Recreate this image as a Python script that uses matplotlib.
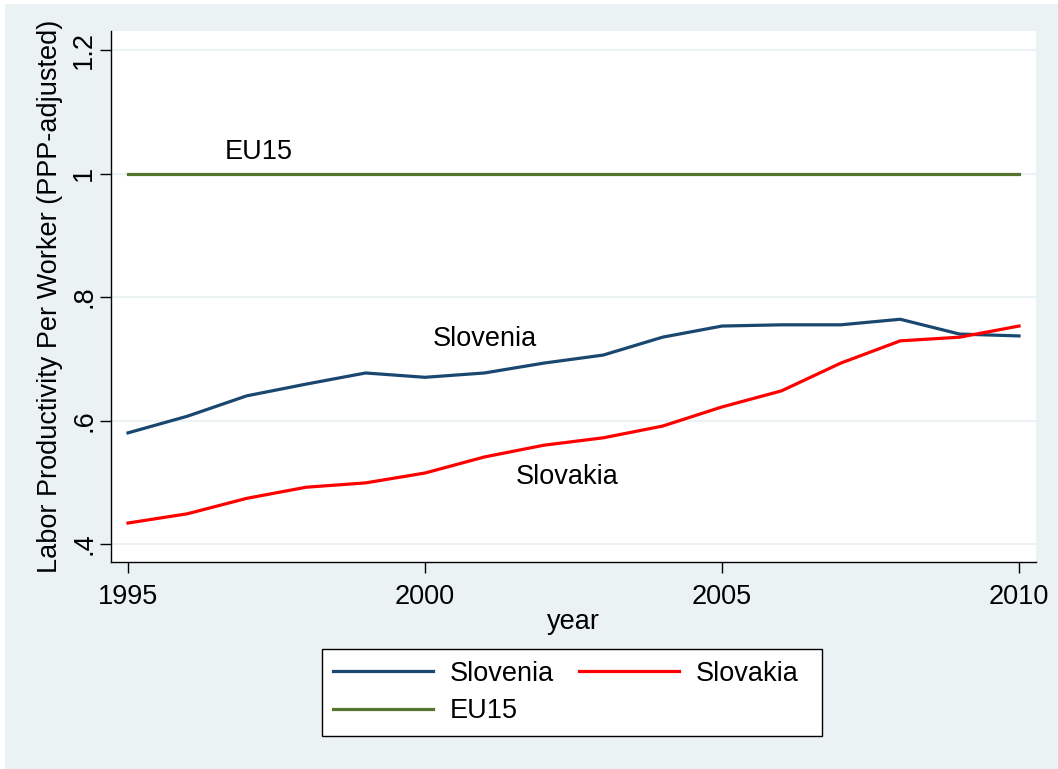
import matplotlib
matplotlib.use("Agg")
import matplotlib.pyplot as plt
from matplotlib.patches import Rectangle

years = list(range(1995, 2011))
slovenia = [0.580, 0.607, 0.640, 0.659, 0.677, 0.670, 0.677, 0.693,
            0.706, 0.735, 0.753, 0.755, 0.755, 0.764, 0.740, 0.737]
slovakia = [0.434, 0.449, 0.474, 0.492, 0.499, 0.515, 0.541, 0.560,
            0.572, 0.591, 0.622, 0.648, 0.693, 0.729, 0.735, 0.753]
eu15 = [1.0] * len(years)

xticks = [1995, 2000, 2005, 2010]
yticks = [0.4, 0.6, 0.8, 1.0, 1.2]
ytick_labels = [".4", ".6", ".8", "1", "1.2"]

BG = "#EAF2F3"
NAVY = "#1A476F"
RED = "#FF0000"
GREEN = "#55752F"
FS = 19.5
W, H = 1058, 769

plt.rcParams['font.family'] = ['Liberation Sans', 'DejaVu Sans']

fig = plt.figure(figsize=(W / 100, H / 100), dpi=100, facecolor="white")
fig.patches.append(Rectangle((5 / W, 0), 1 - 5 / W, 1 - 4 / H,
                             transform=fig.transFigure, facecolor=BG,
                             edgecolor="none", zorder=-10))

ax = fig.add_axes([111 / W, 1 - 562 / H, 925 / W, 531 / H])
ax.set_facecolor("white")

l_sn, = ax.plot(years, slovenia, color=NAVY, lw=2.3, label="Slovenia", zorder=3)
l_sk, = ax.plot(years, slovakia, color=RED, lw=2.3, label="Slovakia", zorder=3)
l_eu, = ax.plot(years, eu15, color=GREEN, lw=2.3, label="EU15", zorder=3)

ax.text(1997.2, 1.035, "EU15", fontsize=FS, ha="center", va="center")
ax.text(2001.0, 0.732, "Slovenia", fontsize=FS, ha="center", va="center")
ax.text(2002.4, 0.509, "Slovakia", fontsize=FS, ha="center", va="center")

ax.set_xlim(1994.714, 2010.286)
ax.set_ylim(0.3709, 1.2308)
ax.set_xticks(xticks)
ax.set_xticklabels([str(x) for x in xticks], fontsize=FS)
ax.set_yticks(yticks)
ax.set_yticklabels(ytick_labels, fontsize=FS, rotation=90, va="center")

for v in yticks:
    ax.axhline(v, color=BG, lw=1.5, zorder=1)

for s in ["top", "right"]:
    ax.spines[s].set_visible(False)
for s in ["left", "bottom"]:
    ax.spines[s].set_color("black")
    ax.spines[s].set_linewidth(1.0)

ax.tick_params(axis="x", direction="out", length=8, width=1, pad=8)
ax.tick_params(axis="y", direction="out", length=8, width=1, pad=2)

ax.set_xlabel("year", fontsize=FS, labelpad=-1)
ax.set_ylabel("Labor Productivity Per Worker (PPP-adjusted)", fontsize=FS, labelpad=6)

# legend frame
fig.patches.append(Rectangle((322 / W, 1 - 736 / H), 500 / W, 87 / H,
                             transform=fig.transFigure, facecolor="white",
                             edgecolor="black", lw=1.0, zorder=1))

# column-major order so rows read: Slovenia, Slovakia / EU15
leg = fig.legend(handles=[l_sn, l_eu, l_sk], labels=["Slovenia", "EU15", "Slovakia"],
                 loc="center left", ncol=2,
                 bbox_to_anchor=(333 / W, 1 - 692.5 / H),
                 fontsize=FS, frameon=False,
                 handlelength=3.7, handletextpad=0.6, labelspacing=0.42,
                 columnspacing=0.93, borderaxespad=0, borderpad=0)
leg.set_zorder(5)

fig.savefig("out.png", dpi=100, facecolor=fig.get_facecolor())
